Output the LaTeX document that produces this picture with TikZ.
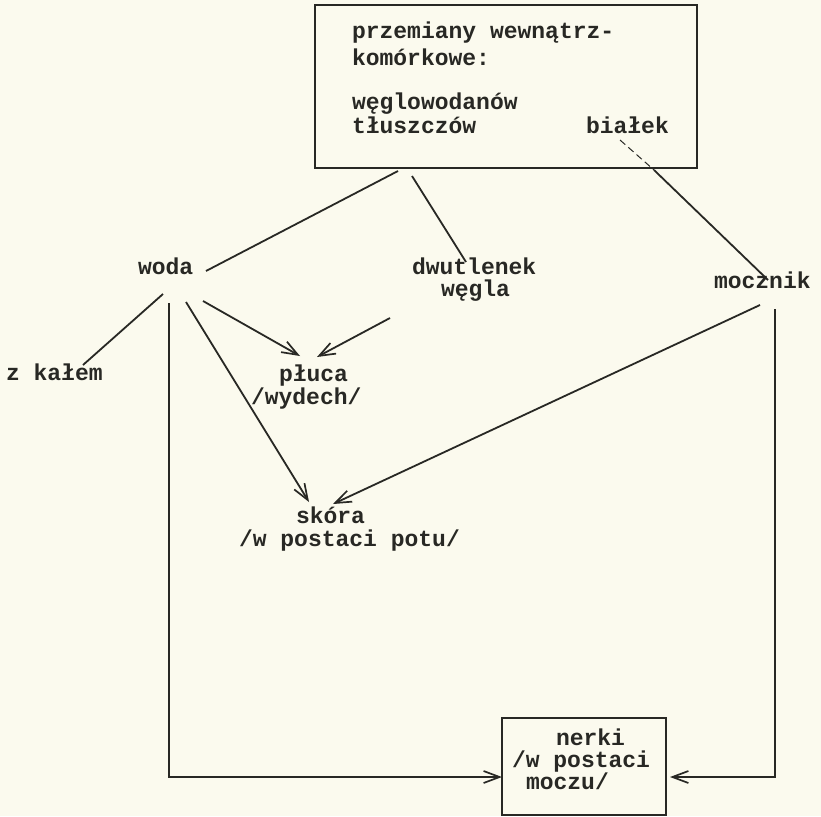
\documentclass[tikz,border=0pt]{standalone}
\usepackage{fontspec}
\setmainfont{Liberation Mono}
\usetikzlibrary{arrows.meta}
\definecolor{paper}{RGB}{251,250,238}
\definecolor{ink}{RGB}{40,40,36}
\begin{document}
\begin{tikzpicture}[x=1pt,y=-1pt,
  every node/.style={inner sep=0pt,outer sep=0pt,text=ink},
  lbl/.style={anchor=base west,font=\fontsize{23}{23}\selectfont\bfseries},
  frame/.style={draw=ink,line width=1.8pt,anchor=north west,inner sep=0pt},
  link/.style={draw=ink,line width=1.8pt},
  flow/.style={link,-{Straight Barb[length=16pt,width=12pt,line width=1.7pt]}},
  faint/.style={draw=ink,line width=1pt,dash pattern=on 7pt off 4pt}]
% paper and picture extent
\fill[paper] (0,0) rectangle (821,816);
\useasboundingbox (0,0) rectangle (821,816);

% frame of intracellular metabolism
\node[frame,minimum width=382pt,minimum height=163pt] (box) at (315,5) {};
\node[lbl] (p1) at (352,39) {przemiany wewnątrz-};
\node[lbl] (p2) at (352,66) {komórkowe:};
\node[lbl] (p3) at (352,109) {węglowodanów};
\node[lbl] (p4) at (352,133) {tłuszczów};
\node[lbl] (bialek) at (586,133) {białek};

% products
\node[lbl] (woda) at (138,274) {woda};
\node[lbl] (dw1) at (412,274) {dwutlenek};
\node[lbl] (dw2) at (441,296) {węgla};
\node[lbl] (mocznik) at (714,288) {mocznik};

% excretion routes
\node[lbl] (zkalem) at (6,380) {z kałem};
\node[lbl] (pluca1) at (279,381) {płuca};
\node[lbl] (pluca2) at (251,404) {/wydech/};
\node[lbl] (skora1) at (296,523) {skóra};
\node[lbl] (skora2) at (239,546) {/w postaci potu/};

% kidneys
\node[frame,minimum width=164pt,minimum height=97pt] (nerki) at (502,718) {};
\node[lbl] (n1) at (556,745) {nerki};
\node[lbl] (n2) at (512,767) {/w postaci};
\node[lbl] (n3) at (526,789) {moczu/};

% connector ends
\coordinate (boxA) at (398,171);
\coordinate (boxB) at (412,176);
\coordinate (boxC) at (654,170);
\coordinate (bialekEnd) at (620,140);
\coordinate (wodaE) at (206,271);
\coordinate (wodaSW) at (163,294);
\coordinate (wodaS) at (169,303);
\coordinate (wodaS2) at (186,302);
\coordinate (wodaSE) at (203,301);
\coordinate (dwTop) at (466,262);
\coordinate (dwS) at (390,318);
\coordinate (moczTop) at (768,280);
\coordinate (moczSW) at (760,305);
\coordinate (moczS) at (775,309);
\coordinate (kalEnd) at (83,365);
\coordinate (plucaIn1) at (300,356);
\coordinate (plucaIn2) at (317,357);
\coordinate (skoraIn1) at (309,502);
\coordinate (skoraIn2) at (333,504);
\coordinate (nerkiL) at (nerki.west |- 0,777);
\coordinate (nerkiR) at ([xshift=4pt]nerki.east |- 0,777);

% from metabolism to products
\draw[link] (boxA) -- (wodaE);
\draw[link] (boxB) -- (dwTop);
\draw[faint] (bialekEnd) -- (boxC);
\draw[link] (boxC) -- (moczTop);

% water routes
\draw[link] (wodaSW) -- (kalEnd);
\draw[flow] (wodaSE) -- (plucaIn1);
\draw[flow] (wodaS2) -- (skoraIn1);
\draw[flow] (wodaS) -- (wodaS |- nerkiL) -- (nerkiL);

% carbon dioxide to lungs
\draw[flow] (dwS) -- (plucaIn2);

% urea routes
\draw[flow] (moczSW) -- (skoraIn2);
\draw[flow] (moczS) -- (moczS |- nerkiR) -- (nerkiR);
\end{tikzpicture}
\end{document}
